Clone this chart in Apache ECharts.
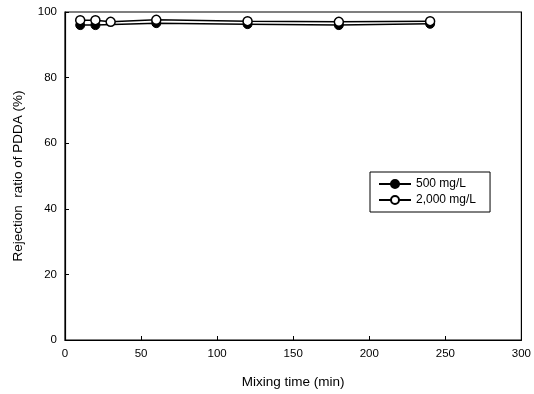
<!DOCTYPE html>
<html><head><meta charset="utf-8">
<script src="https://cdn.jsdelivr.net/npm/echarts@6/dist/echarts.min.js"></script>
<style>html,body{margin:0;padding:0;background:#fff}#c{width:534px;height:394px}</style>
</head><body><div id="c"></div>
<script>
const time500 = [10, 20, 60, 120, 180, 240];
const vals500 = [96.0, 96.0, 96.6, 96.3, 96.0, 96.4];
const time2000 = [10, 20, 30, 60, 120, 180, 240];
const vals2000 = [97.5, 97.5, 97.0, 97.6, 97.2, 97.0, 97.2];
const xTicks = [0, 50, 100, 150, 200, 250, 300];
const yTicks = [0, 20, 40, 60, 80, 100];

const chart = echarts.init(document.getElementById('c'));
const font = 'Liberation Sans, Arial, sans-serif';
chart.setOption({
  animation: false,
  grid: {left: 65, right: 7, top: 12, bottom: 53, show: true, borderColor: '#000', borderWidth: 1.2},
  xAxis: {
    type: 'value', min: 0, max: 300, interval: 50,
    name: 'Mixing time (min)', nameLocation: 'middle', nameGap: 35,
    nameTextStyle: {fontFamily: font, fontSize: 13.5, color: '#000'},
    axisLine: {lineStyle: {color: '#000', width: 1.2}},
    axisTick: {inside: true, length: 4, lineStyle: {color: '#000'}},
    axisLabel: {fontFamily: font, fontSize: 11.5, color: '#000', margin: 8},
    splitLine: {show: false}
  },
  yAxis: {
    type: 'value', min: 0, max: 100, interval: 20,
    name: 'Rejection  ratio of PDDA (%)', nameLocation: 'middle', nameGap: 40,
    nameTextStyle: {fontFamily: font, fontSize: 13.5, color: '#000'},
    axisLine: {lineStyle: {color: '#000', width: 1.2}},
    axisTick: {inside: true, length: 4, lineStyle: {color: '#000'}},
    axisLabel: {fontFamily: font, fontSize: 11.5, color: '#000', margin: 8},
    splitLine: {show: false}
  },
  legend: {
    orient: 'vertical', left: 370, top: 172,
    padding: [6, 14, 6, 8], itemGap: 4,
    borderColor: '#000', borderWidth: 1,
    itemWidth: 32, itemHeight: 10,
    textStyle: {fontFamily: font, fontSize: 12, color: '#000', width: 72, align: 'right'},
    data: ['500 mg/L', '2,000 mg/L']
  },
  series: [
    {
      name: '500 mg/L', type: 'line',
      data: time500.map((t, i) => [t, vals500[i]]),
      symbol: 'circle', symbolSize: 9,
      lineStyle: {color: '#000', width: 1.5},
      itemStyle: {color: '#000', borderColor: '#000', borderWidth: 1}
    },
    {
      name: '2,000 mg/L', type: 'line',
      data: time2000.map((t, i) => [t, vals2000[i]]),
      symbol: 'circle', symbolSize: 9,
      lineStyle: {color: '#000', width: 1.5},
      itemStyle: {color: '#fff', borderColor: '#000', borderWidth: 1.5}
    }
  ]
});
</script></body></html>
